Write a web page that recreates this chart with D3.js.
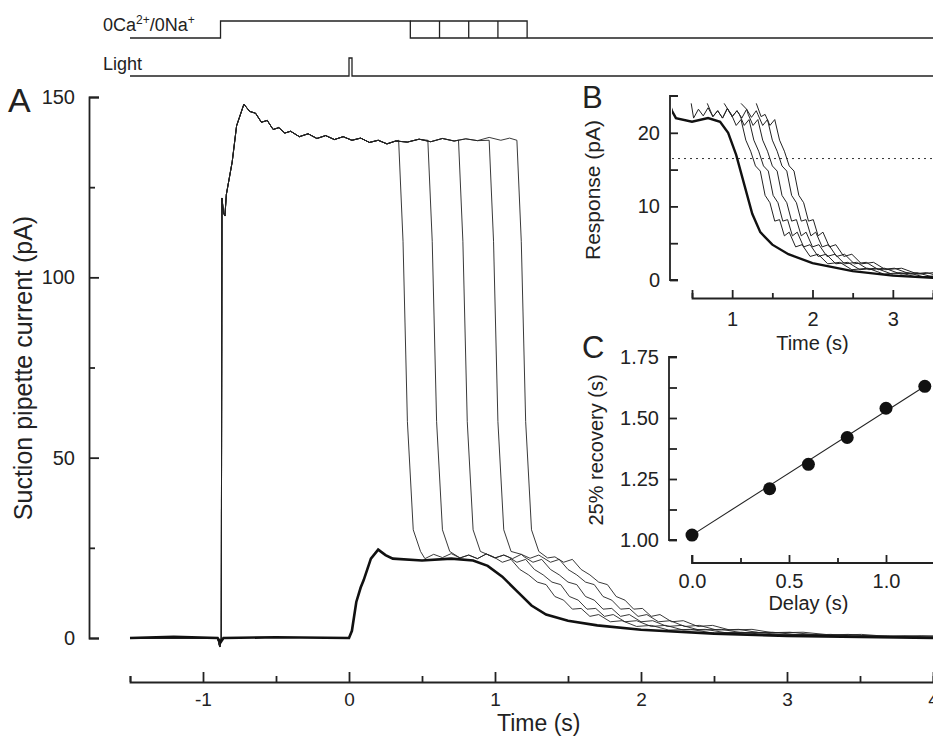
<!DOCTYPE html>
<html><head><meta charset="utf-8">
<script src="https://cdn.jsdelivr.net/npm/d3@7"></script>
<style>body{margin:0;background:#fff}text{font-family:"Liberation Sans",Arial,sans-serif;fill:#222}</style>
</head><body><div class="chart"></div>
<script>
// protocol timing (s)
const caOn = -0.88;
const stepTimes = [0.42, 0.62, 0.82, 1.02, 1.22];
const lightOn = 0;
// drop times of the 0Ca traces in A
const dropTimes = [0.34, 0.54, 0.75, 0.96, 1.15];
// panel C
const delays = [0, 0.4, 0.6, 0.8, 1.0, 1.2];
const recovery = [1.02, 1.21, 1.31, 1.42, 1.54, 1.63];
// bold light-only trace
const boldTrace = [[-1.5,0],[-1.2,0.3],[-0.9,0],[-0.88,-1.2],[-0.86,0],[-0.5,0.2],[0,0],[0.02,2],[0.05,10],[0.08,14],[0.1,16],[0.15,22],[0.2,24.5],[0.25,23],[0.3,22],[0.5,21.5],[0.7,22],[0.85,21.5],[0.95,20],[1.05,17],[1.15,13],[1.25,9],[1.35,6.5],[1.5,4.8],[1.7,3.5],[2.0,2.3],[2.5,1.2],[3,0.6],[3.5,0.3],[4,0]];
// 0Ca traces, common start
const thinStart = [[-1.5,0],[-0.9,0],[-0.885,-2.5],[-0.875,0],[-0.87,122],[-0.86,118],[-0.85,117],[-0.84,123],[-0.8,132],[-0.77,142],[-0.72,148],[-0.68,146],[-0.64,145.5],[-0.6,143],[-0.56,143.5],[-0.52,141],[-0.48,141.5],[-0.44,140],[-0.4,140.5],[-0.34,139],[-0.28,139.8],[-0.22,138.5],[-0.16,139.3],[-0.1,138.2],[-0.04,139],[0.02,138],[0.08,138.6],[0.14,137.4],[0.2,138],[0.26,137],[0.32,137.8],[0.4,137.5],[0.48,138.3],[0.56,137.6],[0.64,138.5],[0.72,137.8],[0.8,138.4],[0.88,137.9],[0.96,138.8],[1.04,138],[1.1,138.6],[1.15,138]];
const dropShape = [[0,138],[0.03,110],[0.06,60],[0.1,30],[0.15,24]];
const plateauWiggle = [[0.4,22.5],[0.46,23.5],[0.52,22],[0.58,23.2],[0.64,22.3],[0.7,23.4],[0.76,22.2],[0.82,23],[0.88,22],[0.94,23.3],[1.0,22.2],[1.06,23],[1.12,22],[1.18,23.2],[1.24,22.1],[1.3,23],[1.36,22.2],[1.42,22.8],[1.48,22],[1.54,22.6]];
const thinTail = [[0.8,22.5],[0.86,21],[0.92,21.8],[0.98,19],[1.04,17.5],[1.1,15.5],[1.16,14.8],[1.22,11.5],[1.28,10.5],[1.34,8],[1.4,8.2],[1.46,6],[1.52,6.5],[1.6,4.5],[1.68,4.8],[1.78,3.2],[1.88,3.5],[2.0,2.2],[2.15,2.4],[2.3,1.4],[2.5,1.6],[2.7,0.8],[2.9,1.0],[3.1,0.4],[3.4,0.6],[3.7,0],[4.2,0.3],[4.6,0]];

const thinTraces = dropTimes.map((dt,i)=>{
  const shift = recovery[i+1]-recovery[0];
  const pts = thinStart.filter(p=>p[0]<dt);
  dropShape.forEach(p=>pts.push([dt+p[0],p[1]]));
  plateauWiggle.filter(p=>p[0]>dt+0.17 && p[0]<0.8+shift).forEach(p=>pts.push(p));
  thinTail.forEach(p=>pts.push([p[0]+shift,p[1]]));
  return pts;
});

const svg = d3.select(".chart").append("svg").attr("width",933).attr("height",738);

// ----- panel A
const x = d3.scaleLinear().domain([-1.5,4]).range([130,933]);
const y = d3.scaleLinear().domain([0,150]).range([638,97]);
const line = d3.line().x(d=>x(d[0])).y(d=>y(d[1]));
const dA = svg.append("g");
thinTraces.forEach(t=>dA.append("path").attr("d",line(t)).attr("fill","none").attr("stroke","#222").attr("stroke-width",0.9));
dA.append("path").attr("d",line(boldTrace)).attr("fill","none").attr("stroke","#111").attr("stroke-width",2.6);

const yAx = svg.append("g").attr("transform","translate(89,0)")
  .call(d3.axisRight(y).tickValues([0,25,50,75,100,125,150]).tickSize(10).tickFormat(d=>d%50===0?d:""));
yAx.selectAll(".tick line").attr("x2",d=>d%50===0?10:6);
yAx.selectAll(".tick text").attr("x",-14).attr("text-anchor","end").attr("font-size",20);
const xAx = svg.append("g").attr("transform","translate(0,682)")
  .call(d3.axisTop(x).tickValues(d3.range(-1.5,4.01,0.5)).tickFormat(d=>Number.isInteger(d)?d:""));
xAx.selectAll(".tick line").attr("y2",d=>Number.isInteger(d)?-10:-6);
xAx.selectAll(".tick text").attr("y",24).attr("font-size",19);
[yAx,xAx].forEach(a=>{a.select(".domain").attr("stroke-width",1.8).attr("stroke","#222");a.selectAll(".tick line").attr("stroke-width",1.8).attr("stroke","#222");a.selectAll("text").attr("fill","#222").attr("font-family","Liberation Sans");});
svg.append("text").attr("x",x(1.3)).attr("y",731).attr("text-anchor","middle").attr("font-size",23).text("Time (s)");
svg.append("text").attr("transform","translate(32,368) rotate(-90)").attr("text-anchor","middle").attr("font-size",25).text("Suction pipette current (pA)");
svg.append("text").attr("x",8).attr("y",112).attr("font-size",34).text("A");

// ----- protocol
const proto = svg.append("g").attr("fill","none").attr("stroke","#222").attr("stroke-width",1.3);
const xe = x(4);
proto.append("path").attr("d",`M${x(-1.5)},38H${x(caOn)}V21H${x(stepTimes[0])}V38H${xe}`);
proto.append("path").attr("d",`M${x(stepTimes[0])},21H${x(stepTimes[4])}V38`);
stepTimes.slice(1,4).forEach(s=>proto.append("path").attr("d",`M${x(s)},21V38`));
proto.append("path").attr("d",`M${x(-1.5)},76H${x(lightOn)}V58H${x(lightOn)+3}V76H${xe}`);
const t1 = svg.append("text").attr("x",103).attr("y",31).attr("font-size",18);
t1.append("tspan").text("0Ca");
t1.append("tspan").attr("dy",-7).attr("font-size",12).text("2+");
t1.append("tspan").attr("dy",7).text("/0Na");
t1.append("tspan").attr("dy",-7).attr("font-size",12).text("+");
svg.append("text").attr("x",103).attr("y",70).attr("font-size",18).text("Light");

// ----- panel B
const xb = d3.scaleLinear().domain([0.5,3.5]).range([692,933]);
const yb = d3.scaleLinear().domain([0,25]).range([280,96]);
svg.append("clipPath").attr("id","cb").append("rect").attr("x",672).attr("y",82).attr("width",261).attr("height",206);
const lb = d3.line().x(d=>xb(d[0])).y(d=>yb(d[1]));
const gB = svg.append("g").attr("clip-path","url(#cb)");
thinTraces.forEach((t,i)=>gB.append("path").attr("d",lb(t.filter(p=>p[0]>dropTimes[i]+0.12))).attr("fill","none").attr("stroke","#222").attr("stroke-width",1));
gB.append("path").attr("d",lb(boldTrace)).attr("fill","none").attr("stroke","#111").attr("stroke-width",2.4);
gB.append("line").attr("x1",672).attr("x2",933).attr("y1",yb(16.5)).attr("y2",yb(16.5)).attr("stroke","#333").attr("stroke-dasharray","2,4");
const byAx = svg.append("g").attr("transform","translate(670,0)")
  .call(d3.axisRight(yb).tickValues([0,5,10,15,20]).tickSize(8).tickFormat(d=>d%10===0?d:""));
byAx.select(".domain").attr("d",`M8,${yb(0)}H0V${yb(25)}H8`);
byAx.selectAll(".tick text").attr("x",-10).attr("text-anchor","end").attr("font-size",20);
const bxAx = svg.append("g").attr("transform","translate(0,298)")
  .call(d3.axisTop(xb).tickValues([0.5,1,1.5,2,2.5,3,3.5]).tickSize(8).tickFormat(d=>Number.isInteger(d)?d:""));
bxAx.selectAll(".tick line").attr("y2",d=>Number.isInteger(d)?-8:-5);
bxAx.selectAll(".tick text").attr("y",28).attr("font-size",20);
svg.append("text").attr("x",xb(2)).attr("y",350).attr("text-anchor","middle").attr("font-size",20).text("Time (s)");
svg.append("text").attr("transform","translate(600,190) rotate(-90)").attr("text-anchor","middle").attr("font-size",21).text("Response (pA)");
svg.append("text").attr("x",582).attr("y",108).attr("font-size",31).text("B");

// ----- panel C
const xc = d3.scaleLinear().domain([0,1]).range([692,886]);
const yc = d3.scaleLinear().domain([1,1.75]).range([540,357]);
svg.append("line").attr("x1",xc(delays[0])).attr("y1",yc(recovery[0])).attr("x2",xc(delays[5])).attr("y2",yc(recovery[5])).attr("stroke","#222").attr("stroke-width",1.1);
svg.selectAll(".dot").data(delays).enter().append("circle").attr("class","dot")
  .attr("cx",d=>xc(d)).attr("cy",(d,i)=>yc(recovery[i])).attr("r",6.5).attr("fill","#111");
const cyAx = svg.append("g").attr("transform","translate(669,0)")
  .call(d3.axisRight(yc).tickValues([1,1.125,1.25,1.375,1.5,1.625,1.75]).tickSize(8).tickFormat(d=>[1,1.25,1.5,1.75].includes(d)?d3.format(".2f")(d):""));
cyAx.select(".domain").attr("d",`M8,${yc(1)}H0V${yc(1.75)}H8`);
cyAx.selectAll(".tick text").attr("x",-10).attr("text-anchor","end").attr("font-size",20);
const cxAx = svg.append("g").attr("transform","translate(0,563)")
  .call(d3.axisTop(xc).tickValues([0,0.25,0.5,0.75,1]).tickSize(8).tickFormat(d=>d%0.5===0?d3.format(".1f")(d):""));
cxAx.select(".domain").attr("d",`M${xc(0)},-8V0H933`);
cxAx.selectAll(".tick line").attr("y2",d=>d%0.5===0?-8:-5);
cxAx.selectAll(".tick text").attr("y",25).attr("font-size",20);
svg.append("text").attr("x",xc(0.6)).attr("y",610).attr("text-anchor","middle").attr("font-size",20).text("Delay (s)");
svg.append("text").attr("transform","translate(603,450) rotate(-90)").attr("text-anchor","middle").attr("font-size",20).text("25% recovery (s)");
svg.append("text").attr("x",582).attr("y",358).attr("font-size",31).text("C");

[byAx,bxAx,cyAx,cxAx].forEach(a=>{a.select(".domain").attr("stroke-width",1.8).attr("stroke","#222").attr("fill","none");a.selectAll(".tick line").attr("stroke-width",1.8).attr("stroke","#222");a.selectAll("text").attr("fill","#222").attr("font-family","Liberation Sans");});
</script></body></html>
